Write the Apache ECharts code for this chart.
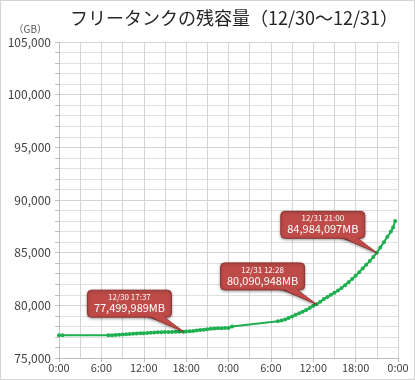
<!DOCTYPE html>
<html><head><meta charset="utf-8">
<script src="https://cdn.jsdelivr.net/npm/echarts@6/dist/echarts.min.js"></script>
<style>html,body{margin:0;padding:0;background:#fff}#c{width:413px;height:378px;border:1px solid #d4d4d4}</style>
</head><body><div id="c"></div>
<script>
// hours since 12/30 0:00
const hours = [0,0.5,
 7,7.5,8,8.5,9,9.5,10,10.5,11,11.5,12,12.5,13,13.5,14,14.5,15,15.5,16,16.5,17,17.62,18,18.5,19,19.5,20,20.5,21,21.5,22,22.5,23,23.5,24,24.5,
 31,31.5,32,32.5,33,33.5,34,34.5,35,35.5,36,36.47,37,37.5,38,38.5,39,39.5,40,40.5,41,41.5,42,42.5,43,43.5,44,44.5,45,45.5,46,46.5,47,47.3,47.6];
// free capacity (GB)
const storageGB = [77170,77150,
 77150,77160,77180,77200,77220,77250,77280,77300,77320,77340,77360,77380,77400,77420,77440,77450,77460,77470,77480,77490,77495,77500,77510,77540,77570,77610,77650,77690,77730,77770,77800,77820,77830,77840,77850,78000,
 78500,78550,78650,78800,78950,79100,79250,79400,79550,79750,79950,80091,80350,80600,80800,81000,81200,81400,81650,81900,82200,82500,82800,83150,83500,83850,84200,84600,84984,85500,86000,86500,87000,87400,88000];
const calloutHours = [17.62, 36.47, 45];
const calloutValues = [77499.989, 80090.948, 84984.097];
const calloutTimes = ['12/30 17:37','12/31 12:28','12/31 21:00'];
const calloutTexts = ['77,499,989MB','80,090,948MB','84,984,097MB'];
const xTicks = [0,6,12,18,24,30,36,42,48];
const yMin = 75000, yMax = 105000, yStep = 5000;

const chart = echarts.init(document.getElementById('c'));
const font = '"Noto Sans CJK JP", "Noto Sans", sans-serif';
const lineData = hours.map((h,i)=>[h, storageGB[i]]);
const calloutData = calloutHours.map((h,i)=>[h, calloutValues[i], calloutTimes[i], calloutTexts[i]]);
const BOX_W = 84, BOX_H = 27, DX = -54, DY = -28;
chart.setOption({
  animation:false,
  title:{text:'フリータンクの残容量（12/30～12/31）',left:64,top:3,
    textStyle:{fontFamily:font,fontSize:18,fontWeight:'normal',color:'#262626'}},
  grid:{left:58,right:16,top:41,bottom:21},
  xAxis:{type:'value',min:0,max:48,interval:6,
    axisLine:{lineStyle:{color:'#bfbfbf'}},
    axisTick:{show:true,length:4,lineStyle:{color:'#bfbfbf'}},
    axisLabel:{formatter:v=>(v%24)+':00',fontFamily:font,fontSize:11,color:'#404040',margin:4},
    splitLine:{show:true,lineStyle:{color:'#d4d4d4',width:1}},
    minorTick:{show:false,splitNumber:2},
    minorSplitLine:{show:true,lineStyle:{color:'#d4d4d4',width:1}}},
  yAxis:{type:'value',min:yMin,max:yMax,interval:yStep,
    name:'（GB）',nameLocation:'end',nameGap:8,
    nameTextStyle:{fontFamily:font,fontSize:10,color:'#595959',align:'right',padding:[0,12,0,0]},
    axisLine:{show:true,lineStyle:{color:'#bfbfbf'}},
    axisTick:{show:true,length:4,lineStyle:{color:'#bfbfbf'}},
    minorTick:{show:true,splitNumber:5,length:4,lineStyle:{color:'#bfbfbf'}},
    axisLabel:{formatter:v=>v.toLocaleString('en-US'),fontFamily:font,fontSize:12,color:'#404040',margin:8},
    splitLine:{show:true,lineStyle:{color:'#d4d4d4'}},
    minorSplitLine:{show:true,lineStyle:{color:'#e0e0e0'}}},
  series:[
    {type:'line',data:lineData,symbol:'circle',symbolSize:4,showSymbol:true,
     lineStyle:{color:'#1eb050',width:2},itemStyle:{color:'#1eb050'},z:3},
    {type:'custom',data:calloutData,z:10,
     renderItem:function(params,api){
       const p = api.coord([api.value(0),api.value(1)]);
       const cx = p[0]+DX, cy = p[1]+DY;
       const x0 = cx-BOX_W/2, y0 = cy-BOX_H/2, x1 = cx+BOX_W/2, y1 = cy+BOX_H/2;
       const tail = [[x1-26,y1-2],[x1-10,y1-2],[p[0],p[1]]];
       const fill = '#be4b48', stroke = '#8e3431';
       return {type:'group',children:[
         {type:'polygon',shape:{points:tail},style:{fill:fill,stroke:stroke,lineWidth:1,shadowBlur:3,shadowColor:'rgba(0,0,0,0.35)',shadowOffsetY:1}},
         {type:'rect',shape:{x:x0,y:y0,width:BOX_W,height:BOX_H,r:4},style:{fill:fill,stroke:stroke,lineWidth:1,shadowBlur:3,shadowColor:'rgba(0,0,0,0.35)',shadowOffsetY:1}},
         {type:'polygon',shape:{points:[[x1-25.5,y1-3],[x1-10.5,y1-3],[p[0]-1.5,p[1]-1]]},style:{fill:fill}},
         {type:'text',style:{text:api.value(2),x:cx,y:y0+3,align:'center',verticalAlign:'top',fill:'#fff',font:'8px '+font}},
         {type:'text',style:{text:api.value(3),x:cx,y:y0+12,align:'center',verticalAlign:'top',fill:'#fff',font:'11px '+font}}
       ]};
     }}
  ]
});
</script></body></html>
